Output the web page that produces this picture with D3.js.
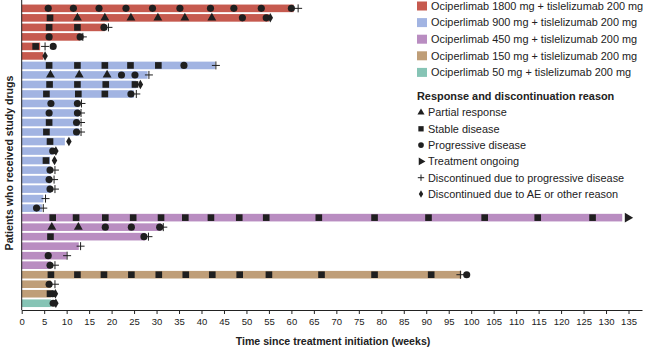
<!DOCTYPE html>
<html>
<head>
<meta charset="utf-8">
<script src="https://cdn.jsdelivr.net/npm/d3@7"></script>
<style>
  body { margin: 0; background: #fff; }
  svg { font-family: "Liberation Sans", Arial, sans-serif; display: block; }
  .axis text { font-size: 9.5px; fill: #222; }
  .axis path, .axis line { stroke: #222; }
  .axis-title { font-size: 10.6px; font-weight: bold; fill: #222; }
  .legend text { font-size: 10.9px; fill: #222; }
</style>
</head>
<body>
<div id="chart"></div>
<script>
const groups = [
  'Ociperlimab 1800 mg + tislelizumab 200 mg',
  'Ociperlimab 900 mg + tislelizumab 200 mg',
  'Ociperlimab 450 mg + tislelizumab 200 mg',
  'Ociperlimab 150 mg + tislelizumab 200 mg',
  'Ociperlimab 50 mg + tislelizumab 200 mg'
];
const groupColors = ['#c65a4f', '#a2b4e2', '#b98dc1', '#bf9e78', '#86c4b5'];

// one entry per patient row, top to bottom
const rowGroup = [0, 0, 0, 0, 0, 0,
  1, 1, 1, 1, 1, 1, 1, 1, 1, 1, 1, 1, 1, 1, 1, 1,
  2, 2, 2, 2, 2, 2,
  3, 3, 3,
  4];
const rowWeeks = [60.5, 55, 18.5, 13, 4.1, 4.8,
  43, 28, 25.5, 25, 12.8, 12.8, 12.8, 12.8, 9.6, 6.8, 6.3, 6.5, 6.5, 6.5, 4.8, 4.5,
  133.6, 31, 27.5, 12.7, 10, 6.5,
  97.8, 6.5, 6.5,
  6.5];

// PR partial response, SD stable, PD progressive, ON ongoing,
// DP discontinued for PD, DA discontinued for AE / other
const rowEvents = [
  [[5.9, 'PD'], [11.5, 'PD'], [17.2, 'PD'], [23.2, 'PD'], [29.1, 'PD'], [35.2, 'PD'], [42.0, 'PD'], [47.2, 'PD'], [53.3, 'PD'], [60.0, 'PD'], [61.5, 'DP']],
  [[6.3, 'SD'], [12.4, 'PR'], [18.5, 'PR'], [24.3, 'PR'], [30.3, 'PR'], [36.3, 'PR'], [42.3, 'PR'], [49.1, 'PD'], [54.4, 'PD'], [55.3, 'DA']],
  [[6.1, 'SD'], [12.4, 'SD'], [18.3, 'PD'], [19.3, 'DP']],
  [[6.1, 'PD'], [13.0, 'PD'], [13.6, 'DP']],
  [[3.1, 'SD'], [5.2, 'DP'], [7.0, 'PD']],
  [[5.2, 'DA']],
  [[6.1, 'SD'], [12.4, 'SD'], [18.5, 'SD'], [24.2, 'SD'], [30.4, 'SD'], [36.1, 'PD'], [43.2, 'DP']],
  [[6.4, 'PR'], [12.8, 'PR'], [19.0, 'PR'], [22.2, 'PD'], [25.2, 'PD'], [28.3, 'DP']],
  [[6.2, 'SD'], [12.4, 'SD'], [18.7, 'SD'], [25.2, 'SD'], [26.4, 'DA']],
  [[5.5, 'SD'], [12.6, 'SD'], [18.5, 'SD'], [24.3, 'PD'], [25.5, 'DP']],
  [[6.5, 'PD'], [12.4, 'PD'], [13.3, 'DP']],
  [[6.1, 'PD'], [12.4, 'PD'], [13.2, 'DP']],
  [[6.1, 'SD'], [12.2, 'PD'], [13.2, 'DP']],
  [[5.5, 'SD'], [12.2, 'PD'], [13.2, 'DP']],
  [[6.3, 'SD'], [10.5, 'DA']],
  [[6.9, 'PD'], [7.6, 'DA']],
  [[5.4, 'SD'], [7.3, 'DA']],
  [[6.3, 'PD'], [7.4, 'DP']],
  [[6.1, 'PD'], [7.2, 'DP']],
  [[6.3, 'PD'], [7.4, 'DP']],
  [[5.3, 'DP']],
  [[3.3, 'PD'], [4.8, 'DP']],
  [[6.9, 'SD'], [12.1, 'SD'], [18.6, 'SD'], [24.8, 'SD'], [31.0, 'SD'], [36.4, 'SD'], [42.1, 'SD'], [48.4, 'SD'], [54.4, 'SD'], [66.1, 'SD'], [78.5, 'SD'], [90.5, 'SD'], [103.0, 'SD'], [114.8, 'SD'], [127.0, 'SD'], [134.8, 'ON']],
  [[6.7, 'PR'], [12.6, 'PR'], [18.6, 'PD'], [24.4, 'PD'], [30.7, 'PD'], [31.5, 'DP']],
  [[6.4, 'SD'], [27.2, 'PD'], [28.2, 'DP']],
  [[13.1, 'DP']],
  [[5.9, 'PD'], [10.1, 'DP']],
  [[6.3, 'PD'], [7.4, 'DP']],
  [[6.5, 'SD'], [12.4, 'SD'], [18.3, 'SD'], [24.4, 'SD'], [30.5, 'SD'], [36.5, 'SD'], [42.4, 'SD'], [48.5, 'SD'], [55.0, 'SD'], [66.7, 'SD'], [78.5, 'SD'], [91.1, 'SD'], [97.6, 'DP'], [99.0, 'PD']],
  [[6.1, 'PD'], [7.4, 'DP']],
  [[6.3, 'SD'], [6.9, 'PD'], [7.5, 'DA']],
  [[7.0, 'PD'], [7.6, 'DA']]
];

const xTicks = d3.range(0, 136, 5);
const eventTypes = ['PR', 'SD', 'PD', 'ON', 'DP', 'DA'];
const eventLabels = [
  'Partial response',
  'Stable disease',
  'Progressive disease',
  'Treatment ongoing',
  'Discontinued due to progressive disease',
  'Discontinued due to AE or other reason'
];

const width = 647, height = 350;
const margin = { top: 0, right: 5, bottom: 40, left: 21.7 };
const svg = d3.select('#chart').append('svg').attr('width', width).attr('height', height);

const x = d3.scaleLinear().domain([0, 138]).range([margin.left, width - margin.right]);
const y = d3.scaleBand().domain(d3.range(rowWeeks.length)).range([3.6, 308]).paddingInner(0.2).paddingOuter(0.1);
const axisY = 310;
const ink = '#1f1f1f';

// bars
svg.append('g').selectAll('rect')
  .data(rowWeeks)
  .join('rect')
  .attr('x', x(0))
  .attr('y', (d, i) => y(i))
  .attr('width', (d) => x(d) - x(0))
  .attr('height', y.bandwidth())
  .attr('fill', (d, i) => groupColors[rowGroup[i]]);

function drawMarker(g, type, cx, cy, s) {
  if (type === 'DP') {
    const h = 4 * s;
    g.append('path')
      .attr('d', `M${cx - h},${cy}H${cx + h}M${cx},${cy - h}V${cy + h}`)
      .attr('stroke', ink).attr('stroke-width', 1).attr('fill', 'none');
    return;
  }
  const shapes = { PR: d3.symbolTriangle, SD: d3.symbolSquare, PD: d3.symbolCircle, ON: d3.symbolTriangle, DA: d3.symbolDiamond };
  const sizes = { PR: 34, SD: 44, PD: 40, ON: 40, DA: 26 };
  const rot = type === 'ON' ? 90 : 0;
  g.append('path')
    .attr('d', d3.symbol(shapes[type], sizes[type] * s * s)())
    .attr('transform', `translate(${cx},${cy}) rotate(${rot})`)
    .attr('fill', ink);
}

const marks = svg.append('g');
rowEvents.forEach((events, i) => {
  const cy = y(i) + y.bandwidth() / 2;
  // plus signs drawn first so dots sit on top
  events.slice().sort((a, b) => (a[1] === 'DP' ? -1 : 0) - (b[1] === 'DP' ? -1 : 0))
    .forEach(([w, t]) => drawMarker(marks, t, x(w), cy, 1));
});

// axes
svg.append('g')
  .attr('class', 'axis')
  .attr('transform', `translate(0,${axisY})`)
  .call(d3.axisBottom(x).tickValues(xTicks).tickSize(4).tickPadding(4).tickSizeOuter(0));
svg.append('line')
  .attr('x1', x(0)).attr('x2', x(0)).attr('y1', 0).attr('y2', axisY)
  .attr('stroke', ink);

svg.append('text')
  .attr('class', 'axis-title')
  .attr('x', 333).attr('y', 345)
  .attr('text-anchor', 'middle')
  .text('Time since treatment initiation (weeks)');
svg.append('text')
  .attr('class', 'axis-title')
  .attr('transform', 'translate(13,163) rotate(-90)')
  .attr('text-anchor', 'middle')
  .text('Patients who received study drugs');

// legend
const legend = svg.append('g').attr('class', 'legend');
groups.forEach((label, i) => {
  const cy = 6 + i * 16.6;
  legend.append('rect').attr('x', 417).attr('y', cy - 4.5).attr('width', 10).attr('height', 9).attr('fill', groupColors[i]);
  legend.append('text').attr('x', 431).attr('y', cy).attr('dy', '0.35em').text(label);
});
legend.append('text')
  .attr('x', 417).attr('y', 96).attr('dy', '0.35em')
  .attr('font-weight', 'bold')
  .text('Response and discontinuation reason');
eventTypes.forEach((t, i) => {
  const cy = 112.5 + i * 16.3;
  drawMarker(legend, t, 421, cy, 0.8);
  legend.append('text').attr('x', 428).attr('y', cy).attr('dy', '0.35em').text(eventLabels[i]);
});
</script>
</body>
</html>
